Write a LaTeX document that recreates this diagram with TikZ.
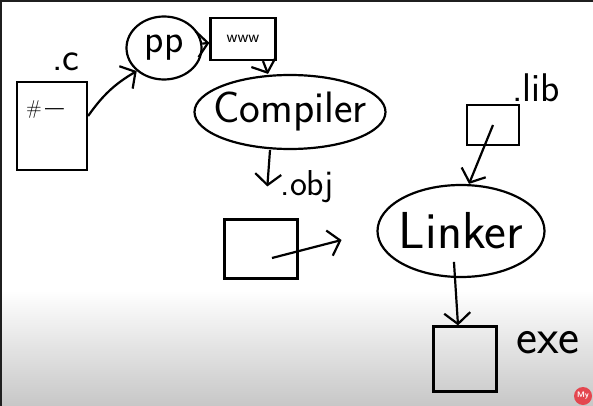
\documentclass[tikz,border=0pt]{standalone}
\usepackage{fontspec}
\usepackage{tikz}
\usetikzlibrary{calc,shapes,positioning,arrows.meta,backgrounds}
\definecolor{logored}{HTML}{E4464F}
\newcommand{\fsz}[1]{\fontsize{#1}{#1}\selectfont}
\tikzset{
  >={Straight Barb[length=11pt,width=26pt]},
  arr/.style={->,line width=2.2pt},
  boxnode/.style args={#1,#2}{
  draw=black,
  line width=2.2pt,
  inner sep=0pt,
  minimum width=#1pt,
  minimum height=#2pt,
  },
  ellnode/.style args={#1,#2}{
  ellipse,
  draw=black,
  line width=2.2pt,
  inner sep=0pt,
  minimum width=#1pt,
  minimum height=#2pt,
  },
  lbl/.style={inner sep=0pt,font=\sffamily\fsz{#1}},
  lbl/.default=40
}

\begin{document}
\begin{tikzpicture}[x=1pt,y=1pt,on grid]
  \useasboundingbox (0,0) rectangle (593,-406);
  \shade[top color=white,bottom color=black!22] (0,-290) rectangle (593,-406);
  \fill[black!88] (0,0) rectangle (593,-2);
  \fill[black!88] (0,0) rectangle (1.5,-406);

  \node [boxnode={70,88}] (src) at (52,-126) {};
  \node [lbl=20,above left=16pt and 7pt of src] (inc) {\#\,---};
  \node [lbl,above right=64pt and 14pt of src] (lc) {.c};
  \node [ellnode={75,63},lbl=40,above right=78pt and 112pt of src] (pp) {pp};
  \node [boxnode={65,42},above right=9pt and 79pt of pp] (tmp) {};
  \node [lbl=17,at=(tmp)] (code) {www};
  \node [ellnode={191,74},below right=73pt and 47pt of tmp,lbl=44,inner xsep=-13pt] (cmp) {Compiler};

  \node [boxnode={73,59},below left=137pt and 29pt of cmp] (obj) {};
  \node [lbl=36,above right=62pt and 46pt of obj] (lobj) {.obj};
  \node [ellnode={167,92},above right=18pt and 200pt of obj,lbl=52,inner xsep=-4pt] (lk) {Linker};
  \node [boxnode={52,40},above right=106pt and 32pt of lk] (lib) {};
  \node [lbl,above right=37pt and 43pt of lib] (llib) {.lib};
  \node [boxnode={63,65},below right=128pt and 4pt of lk] (exe) {};
  \node [lbl=50,above right=16pt and 83pt of exe] (lexe) {exe};

  \path ([yshift=10pt]src.east) edge [arr,bend left=12] (pp.south west)
        (pp) edge [arr] (tmp)
        ([xshift=20pt]tmp.south) edge [arr] ([xshift=-22pt]cmp.north)
        ([xshift=-20pt]cmp.south) edge [arr,shorten >=32pt] ([xshift=4pt]obj.north)
        ([shift={(11pt,-9pt)}]obj.center) edge [arr,shorten >=36pt] (lk.west)
        (lib.center) edge [arr] ([xshift=8pt]lk.north)
        ([xshift=-9pt]lk.center) edge [arr,shorten <=31pt] ([xshift=-7pt]exe.north);

  \node [circle,fill=logored,minimum size=18pt,inner sep=0pt,text=white,
         font=\sffamily\bfseries\fsz{8}] (logo) at (583,-396) {My};
\end{tikzpicture}
\end{document}
